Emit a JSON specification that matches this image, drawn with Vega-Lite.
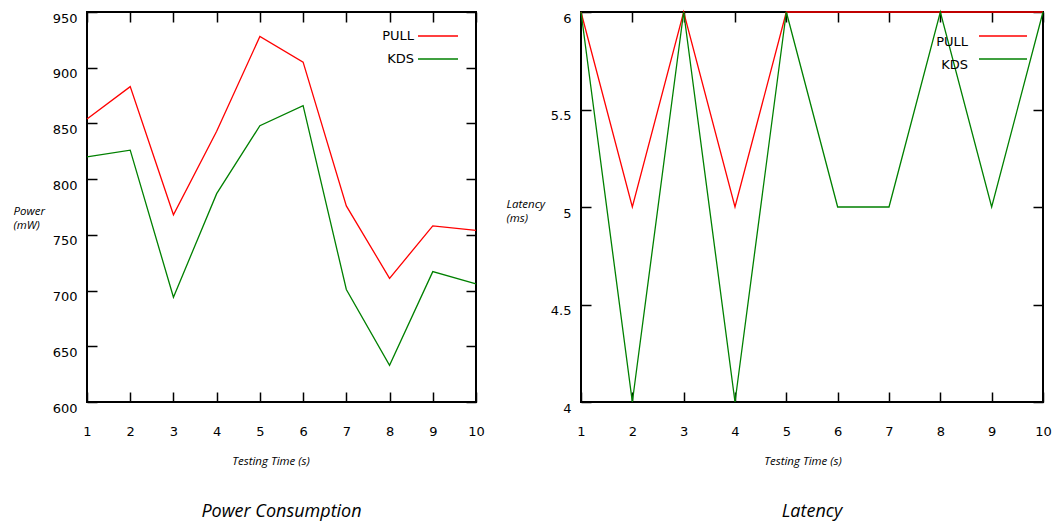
{
  "$schema": "https://vega.github.io/schema/vega-lite/v6.json",
  "padding": {"left": 12, "top": 8, "right": 0, "bottom": 0},
  "datasets": {
    "power": [
      {"t": 1, "series": "PULL", "value": 854},
      {"t": 2, "series": "PULL", "value": 883},
      {"t": 3, "series": "PULL", "value": 768},
      {"t": 4, "series": "PULL", "value": 843},
      {"t": 5, "series": "PULL", "value": 928},
      {"t": 6, "series": "PULL", "value": 905},
      {"t": 7, "series": "PULL", "value": 776},
      {"t": 8, "series": "PULL", "value": 711},
      {"t": 9, "series": "PULL", "value": 758},
      {"t": 10, "series": "PULL", "value": 754},
      {"t": 1, "series": "KDS", "value": 820},
      {"t": 2, "series": "KDS", "value": 826},
      {"t": 3, "series": "KDS", "value": 694},
      {"t": 4, "series": "KDS", "value": 787},
      {"t": 5, "series": "KDS", "value": 848},
      {"t": 6, "series": "KDS", "value": 866},
      {"t": 7, "series": "KDS", "value": 701},
      {"t": 8, "series": "KDS", "value": 633},
      {"t": 9, "series": "KDS", "value": 717},
      {"t": 10, "series": "KDS", "value": 706}
    ],
    "latency": [
      {"t": 1, "series": "PULL", "value": 6},
      {"t": 2, "series": "PULL", "value": 5},
      {"t": 3, "series": "PULL", "value": 6},
      {"t": 4, "series": "PULL", "value": 5},
      {"t": 5, "series": "PULL", "value": 6},
      {"t": 6, "series": "PULL", "value": 6},
      {"t": 7, "series": "PULL", "value": 6},
      {"t": 8, "series": "PULL", "value": 6},
      {"t": 9, "series": "PULL", "value": 6},
      {"t": 10, "series": "PULL", "value": 6},
      {"t": 1, "series": "KDS", "value": 6},
      {"t": 2, "series": "KDS", "value": 4},
      {"t": 3, "series": "KDS", "value": 6},
      {"t": 4, "series": "KDS", "value": 4},
      {"t": 5, "series": "KDS", "value": 6},
      {"t": 6, "series": "KDS", "value": 5},
      {"t": 7, "series": "KDS", "value": 5},
      {"t": 8, "series": "KDS", "value": 6},
      {"t": 9, "series": "KDS", "value": 5},
      {"t": 10, "series": "KDS", "value": 6}
    ]
  },
  "hconcat": [
    {
      "width": 389,
      "height": 390,
      "title": {"text": "Power Consumption", "orient": "bottom", "font": "Open Sans", "fontStyle": "italic", "fontWeight": "normal", "fontSize": 18, "offset": 36, "color": "black"},
      "data": {"name": "power"},
      "layer": [
        {
          "mark": {"type": "line", "strokeWidth": 1.3},
          "encoding": {
            "x": {"field": "t", "type": "quantitative", "scale": {"domain": [1, 10], "nice": false},
              "axis": {"values": [1, 2, 3, 4, 5, 6, 7, 8, 9, 10], "title": "Testing Time (s)", "titleX": 183.5, "titleY": 59, "titleBaseline": "middle"}},
            "y": {"field": "value", "type": "quantitative", "scale": {"domain": [600, 950], "nice": false, "zero": false},
              "axis": {"values": [600, 650, 700, 750, 800, 850, 900, 950], "title": ["Power", "(mW)"], "titleAngle": 0, "titleAlign": "left", "titleX": -74, "titleY": 202, "titleBaseline": "alphabetic"}},
            "color": {"field": "series", "type": "nominal", "scale": {"domain": ["PULL", "KDS"], "range": ["#ff0000", "#008000"]},
              "legend": {"title": null, "orient": "none", "legendX": 342, "legendY": 15, "labelAlign": "right", "labelOffset": -33, "symbolType": "M-2.5,0H2.5", "symbolSize": 256, "rowPadding": 7}}
          }
        },
        {
          "mark": {"type": "line", "opacity": 0},
          "encoding": {
            "x": {"field": "t", "type": "quantitative", "axis": {"orient": "top", "labels": false, "title": null, "values": [1, 2, 3, 4, 5, 6, 7, 8, 9, 10]}},
            "y": {"field": "value", "type": "quantitative", "axis": {"orient": "right", "labels": false, "title": null, "values": [600, 650, 700, 750, 800, 850, 900, 950]}}
          }
        }
      ],
      "resolve": {"axis": {"x": "independent", "y": "independent"}}
    },
    {
      "width": 462,
      "height": 390,
      "title": {"text": "Latency", "orient": "bottom", "font": "Open Sans", "fontStyle": "italic", "fontWeight": "normal", "fontSize": 18, "offset": 36, "color": "black"},
      "data": {"name": "latency"},
      "layer": [
        {
          "mark": {"type": "line", "strokeWidth": 1.3},
          "encoding": {
            "x": {"field": "t", "type": "quantitative", "scale": {"domain": [1, 10], "nice": false},
              "axis": {"values": [1, 2, 3, 4, 5, 6, 7, 8, 9, 10], "title": "Testing Time (s)", "titleX": 221.5, "titleY": 59, "titleBaseline": "middle"}},
            "y": {"field": "value", "type": "quantitative", "scale": {"domain": [4, 6], "nice": false, "zero": false},
              "axis": {"values": [4, 4.5, 5, 5.5, 6], "format": "~g", "title": ["Latency", "(ms)"], "titleAngle": 0, "titleAlign": "left", "titleX": -75, "titleY": 195, "titleBaseline": "alphabetic"}},
            "color": {"field": "series", "type": "nominal", "scale": {"domain": ["PULL", "KDS"], "range": ["#ff0000", "#008000"]},
              "legend": {"title": null, "orient": "none", "legendX": 413, "legendY": 15, "labelAlign": "right", "labelOffset": -44, "labelBaseline": "top", "symbolType": "M-3,0H3", "symbolSize": 256, "rowPadding": 1}}
          }
        },
        {
          "mark": {"type": "line", "opacity": 0},
          "encoding": {
            "x": {"field": "t", "type": "quantitative", "axis": {"orient": "top", "labels": false, "title": null, "values": [1, 2, 3, 4, 5, 6, 7, 8, 9, 10]}},
            "y": {"field": "value", "type": "quantitative", "axis": {"orient": "right", "labels": false, "title": null, "values": [4, 4.5, 5, 5.5, 6]}}
          }
        }
      ],
      "resolve": {"axis": {"x": "independent", "y": "independent"}}
    }
  ],
  "spacing": 19,
  "resolve": {"scale": {"color": "independent"}, "legend": {"color": "independent"}},
  "config": {
    "view": {"stroke": "black", "strokeWidth": 2},
    "axis": {
      "domain": false, "grid": false, "labelFlush": false,
      "tickSize": -10, "tickColor": "black", "tickWidth": 1.5,
      "labelFont": "DejaVu Sans", "labelFontSize": 13, "labelColor": "black",
      "titleFont": "Open Sans", "titleFontStyle": "italic", "titleFontWeight": "normal", "titleFontSize": 11.5, "titleColor": "black", "titleLineHeight": 14
    },
    "axisX": {"labelPadding": 33},
    "axisY": {"labelPadding": 20, "labelBaseline": "top"},
    "legend": {
      "symbolStrokeWidth": 1.3, "symbolFillColor": "transparent", "padding": 0,
      "labelFont": "DejaVu Sans", "labelFontSize": 13, "labelColor": "black"
    }
  }
}
